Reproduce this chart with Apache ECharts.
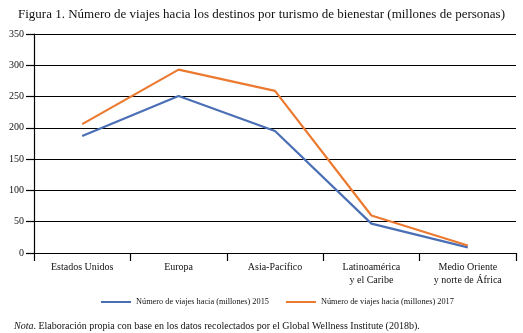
<!DOCTYPE html>
<html>
<head>
<meta charset="utf-8">
<script src="https://cdn.jsdelivr.net/npm/echarts@6/dist/echarts.min.js"></script>
<style>
html,body{margin:0;padding:0;background:#fff;}
#chart{width:523px;height:333px;}
</style>
</head>
<body>
<div id="chart"></div>
<script>
const regions = ['Estados Unidos', 'Europa', 'Asia-Pacífico', 'Latinoamérica\ny el Caribe', 'Medio Oriente\ny norte de África'];
const trips2015 = [187, 251, 195, 47, 9];
const trips2017 = [206, 293, 259, 60, 12];
const seriesNames = ['Número de viajes hacia (millones) 2015', 'Número de viajes hacia (millones) 2017'];
const yTicks = { min: 0, max: 350, step: 50 };

const serif = '"Liberation Serif", "DejaVu Serif", serif';
const chart = echarts.init(document.getElementById('chart'));

chart.setOption({
  animation: false,
  backgroundColor: '#fff',
  title: [
    {
      text: 'Figura 1. Número de viajes hacia los destinos por turismo de bienestar (millones de personas)',
      left: 'center', top: 3,
      textStyle: { fontFamily: serif, fontSize: 13, fontWeight: 'normal', color: '#111' }
    },
    {
      text: '{i|Nota}{n|. Elaboración propia con base en los datos recolectados por el Global Wellness Institute (2018b).}',
      left: 9, top: 316,
      textStyle: {
        fontWeight: 'normal',
        rich: {
          i: { fontFamily: serif, fontSize: 10, fontStyle: 'italic', fontWeight: 'normal', color: '#111' },
          n: { fontFamily: serif, fontSize: 10, fontWeight: 'normal', color: '#111' }
        }
      }
    }
  ],
  legend: {
    top: 293,
    left: 96,
    itemWidth: 30,
    itemHeight: 2,
    itemGap: 17,
    icon: 'rect',
    textStyle: { fontFamily: serif, fontSize: 8.3, color: '#111' },
    data: seriesNames
  },
  grid: { left: 34, right: 7, top: 34, bottom: 80 },
  xAxis: {
    type: 'category',
    data: regions,
    boundaryGap: true,
    axisLine: { lineStyle: { color: '#000', width: 1.2 } },
    axisTick: { show: true, length: 8, lineStyle: { color: '#000', width: 1.2 } },
    axisLabel: { fontFamily: serif, fontSize: 10, color: '#111', margin: 8, lineHeight: 13, interval: 0 }
  },
  yAxis: {
    type: 'value',
    min: yTicks.min, max: yTicks.max, interval: yTicks.step,
    axisLine: { show: true, lineStyle: { color: '#000', width: 1.2 } },
    axisTick: { show: true, length: 8, lineStyle: { color: '#000', width: 1.2 } },
    axisLabel: { fontFamily: serif, fontSize: 10, color: '#111', margin: 10 },
    splitLine: { show: true, lineStyle: { color: '#000', width: 1.2 } }
  },
  series: [
    {
      name: seriesNames[0], type: 'line', data: trips2015,
      symbol: 'none', color: '#4A6FB5',
      lineStyle: { width: 2.2, color: '#4A6FB5' }
    },
    {
      name: seriesNames[1], type: 'line', data: trips2017,
      symbol: 'none', color: '#EB7A30',
      lineStyle: { width: 2.2, color: '#EB7A30' }
    }
  ]
});
</script>
</body>
</html>
